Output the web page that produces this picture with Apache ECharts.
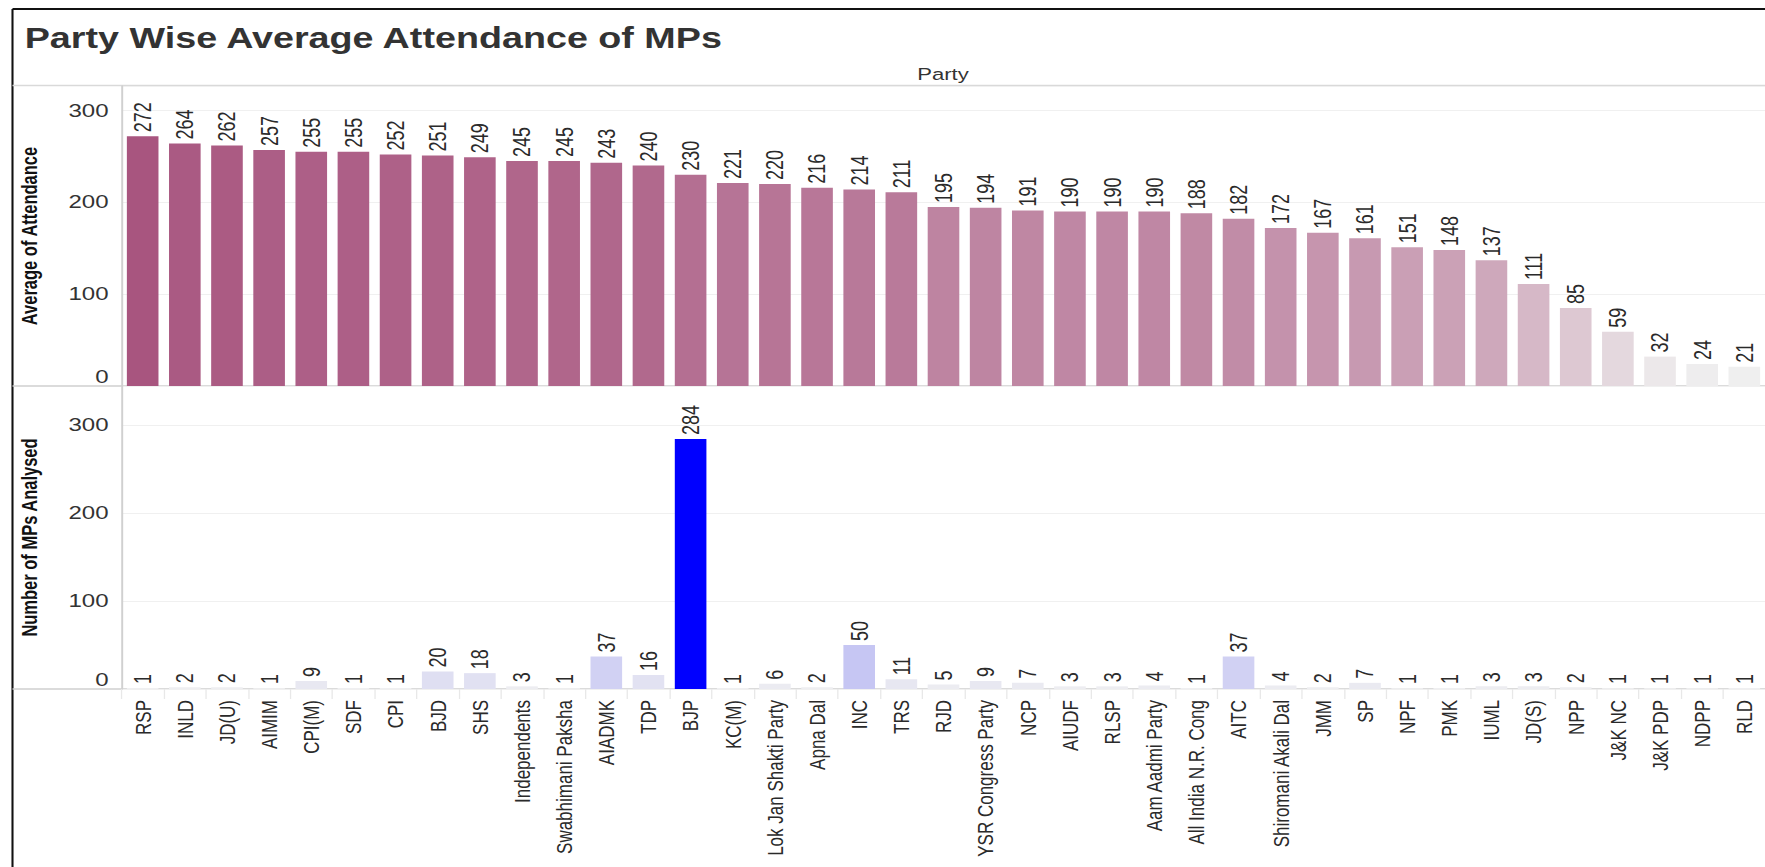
<!DOCTYPE html>
<html>
<head>
<meta charset="utf-8">
<title>Party Wise Average Attendance of MPs</title>
<script src="https://cdn.jsdelivr.net/npm/echarts@6/dist/echarts.min.js"></script>
<style>
    html, body { margin: 0; padding: 0; background: #fff; overflow: hidden; }
    #wrap { width: 1765px; height: 867px; overflow: hidden; }
    /* the original screenshot is stretched sideways, so draw narrow and stretch the box */
    #container { width: 1358px; height: 867px; transform: scaleX(1.3); transform-origin: 0 0; }
</style>
</head>
<body>
<div id="wrap"><div id="container"></div></div>
<script>
var parties = ['RSP', 'INLD', 'JD(U)', 'AIMIM', 'CPI(M)', 'SDF', 'CPI', 'BJD', 'SHS', 'Independents',
    'Swabhimani Paksha', 'AIADMK', 'TDP', 'BJP', 'KC(M)', 'Lok Jan Shakti Party', 'Apna Dal', 'INC', 'TRS', 'RJD',
    'YSR Congress Party', 'NCP', 'AIUDF', 'RLSP', 'Aam Aadmi Party', 'All India N.R. Cong', 'AITC', 'Shiromani Akali Dal', 'JMM', 'SP',
    'NPF', 'PMK', 'IUML', 'JD(S)', 'NPP', 'J&K NC', 'J&K PDP', 'NDPP', 'RLD'];
var attendance = [272, 264, 262, 257, 255, 255, 252, 251, 249, 245,
    245, 243, 240, 230, 221, 220, 216, 214, 211, 195,
    194, 191, 190, 190, 190, 188, 182, 172, 167, 161,
    151, 148, 137, 111, 85, 59, 32, 24, 21];
var mpsAnalysed = [1, 2, 2, 1, 9, 1, 1, 20, 18, 3,
    1, 37, 16, 284, 1, 6, 2, 50, 11, 5,
    9, 7, 3, 3, 4, 1, 37, 4, 2, 7,
    1, 1, 3, 3, 2, 1, 1, 1, 1];
var tickStep = 100;

var stretch = 1.3;
var font = "'Liberation Sans', Arial, sans-serif";
var axisX = 121.6 / stretch;
var gridW = 1647.5 / stretch;
var borderX = 12.5 / stretch;
var rightX = 1765 / stretch;

var myChart = echarts.init(document.getElementById('container'), null, {renderer: 'svg'});

function valueAxis(idx, name, max) {
    return {
        gridIndex: idx,
        type: 'value',
        min: 0,
        max: max,
        interval: tickStep,
        name: name,
        nameLocation: 'middle',
        nameGap: 62,
        nameTextStyle: {fontFamily: font, fontWeight: 'bold', fontSize: 16.5, color: '#111'},
        axisLine: {show: true, lineStyle: {color: '#d0d0d0', width: 1.5}},
        axisTick: {show: false},
        axisLabel: {
            fontFamily: font, fontSize: 18.5, color: '#333', margin: 10,
            showMaxLabel: false,
            verticalAlignMinLabel: 'bottom'
        },
        splitLine: {lineStyle: {color: '#f0f0f0', width: 1}}
    };
}

function barLabel() {
    return {
        show: true,
        position: 'top',
        rotate: 90,
        align: 'left',
        verticalAlign: 'middle',
        distance: 4,
        fontFamily: font,
        fontSize: 18,
        color: '#2a2a2a'
    };
}

option = {
    animation: false,
    backgroundColor: '#fff',
    textStyle: {fontFamily: font},
    title: {
        text: 'Party Wise Average Attendance of MPs',
        left: 14,
        top: 19,
        textStyle: {fontFamily: font, fontSize: 29, fontWeight: 'bold', color: '#333'}
    },
    graphic: [
        // frame round the sheet
        {type: 'line', shape: {x1: borderX, y1: 9, x2: rightX, y2: 9}, style: {stroke: '#111', lineWidth: 2}},
        {type: 'line', shape: {x1: borderX, y1: 9, x2: borderX, y2: 867}, style: {stroke: '#111', lineWidth: 1.6}},
        // header and panel rules
        {type: 'line', shape: {x1: borderX, y1: 85.5, x2: rightX, y2: 85.5}, style: {stroke: '#d9d9d9', lineWidth: 1.5}},
        {type: 'line', shape: {x1: borderX, y1: 386, x2: rightX, y2: 386}, style: {stroke: '#cfcfcf', lineWidth: 1.5}},
        {type: 'line', shape: {x1: borderX, y1: 689, x2: rightX, y2: 689}, style: {stroke: '#cfcfcf', lineWidth: 1.5}},
        {
            type: 'text', x: 943 / stretch, y: 74,
            style: {text: 'Party', fontFamily: font, fontSize: 17, fill: '#333', textAlign: 'center', textVerticalAlign: 'middle'}
        }
    ],
    grid: [
        {left: axisX, top: 86, width: gridW, height: 300},
        {left: axisX, top: 386, width: gridW, height: 303}
    ],
    xAxis: [
        {
            gridIndex: 0, type: 'category', data: parties,
            axisLine: {show: false}, axisTick: {show: false}, axisLabel: {show: false}
        },
        {
            gridIndex: 1, type: 'category', data: parties,
            axisLine: {show: false},
            axisTick: {show: true, length: 10, lineStyle: {color: '#e8e8e8'}},
            axisLabel: {rotate: 90, fontFamily: font, fontSize: 17, color: '#2a2a2a', margin: 11, interval: 0}
        }
    ],
    yAxis: [
        valueAxis(0, 'Average of Attendance', 326.7),
        valueAxis(1, 'Number of MPs Analysed', 344.3)
    ],
    visualMap: [
        {
            show: false, seriesIndex: 0, dimension: 1,
            min: Math.min.apply(null, attendance), max: Math.max.apply(null, attendance),
            inRange: {color: ['#efefef', '#a8557f']}
        },
        {
            show: false, seriesIndex: 1, dimension: 1,
            min: Math.min.apply(null, mpsAnalysed), max: Math.max.apply(null, mpsAnalysed),
            inRange: {color: ['#efeff1', '#0000ff']}
        }
    ],
    series: [
        {
            name: 'Average of Attendance',
            type: 'bar',
            xAxisIndex: 0, yAxisIndex: 0,
            barCategoryGap: '25%',
            label: barLabel(),
            data: attendance
        },
        {
            name: 'Number of MPs Analysed',
            type: 'bar',
            xAxisIndex: 1, yAxisIndex: 1,
            barCategoryGap: '25%',
            label: barLabel(),
            data: mpsAnalysed
        }
    ]
};
myChart.setOption(option);
</script>
</body>
</html>
